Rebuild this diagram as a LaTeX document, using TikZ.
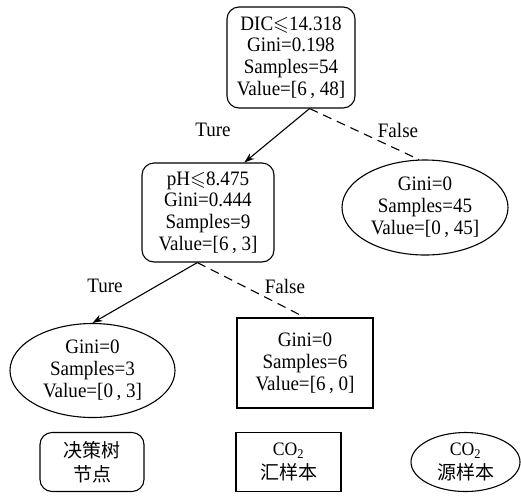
\documentclass[tikz,border=0pt]{standalone}
\usepackage{amsmath,amssymb}
\usepackage{fontspec}
\setmainfont{Liberation Serif}[FakeStretch=0.93]
\newfontfamily\cjk{Noto Sans CJK SC}
\usepackage{tikz}
\usetikzlibrary{shapes,arrows.meta,positioning,calc}

\begin{document}
\begin{tikzpicture}[
    x=1pt, y=-1pt,
    font=\fontsize{20.5}{21.8}\selectfont,
    split/.style={rectangle, draw, rounded corners=12pt, line width=1.1pt, align=center, inner sep=0pt},
    sink/.style={rectangle, draw, line width=1.1pt, align=center, inner sep=0pt},
    source/.style={ellipse, draw, line width=1.1pt, align=center, inner sep=0pt},
    legend/.style={font=\fontsize{19}{24}\selectfont},
    branch/.style={font=\fontsize{20.5}{21.8}\selectfont},
    yes/.style={-{Stealth[length=10pt,width=7pt]}, line width=1.1pt},
    no/.style={line width=1.1pt, dash pattern=on 9pt off 6pt}
]
    \useasboundingbox (0,0) rectangle (521,496);

    % tree
    \node[split, minimum width=128pt, minimum height=101pt] (root) at (291,57.5) {DIC$\leqslant$14.318\\Gini=0.198\\Samples=54\\Value=[6\,, 48]};
    \node[split, minimum width=132pt, minimum height=99pt] (ph) at (208,212.5) {pH$\leqslant$8.475\\Gini=0.444\\Samples=9\\Value=[6\,, 3]};
    \node[source, minimum width=166pt, minimum height=95pt] (src45) at (425,207.5) {Gini=0\\Samples=45\\Value=[0\,, 45]};
    \node[source, minimum width=165pt, minimum height=94pt] (src3) at (92.5,370.5) {Gini=0\\Samples=3\\Value=[0\,, 3]};
    \node[sink, minimum width=136pt, minimum height=90pt] (sink6) at (305,363) {Gini=0\\Samples=6\\Value=[6\,, 0]};

    % branch labels
    \node[branch] (t1) at (213,130) {Ture};
    \node[branch] (f1) at (398,130) {False};
    \node[branch] (t2) at (105,286) {Ture};
    \node[branch] (f2) at (285,286) {False};

    % legend
    \node[split, legend, minimum width=104pt, minimum height=59pt] (keynode) at (92,462) {\cjk 决策树\\\cjk 节点};
    \node[sink, legend, minimum width=105pt, minimum height=59pt] (keysink) at (288.5,462) {CO\textsubscript{2}\\\cjk 汇样本};
    \node[source, legend, minimum width=109pt, minimum height=59pt] (keysrc) at (465.5,462) {CO\textsubscript{2}\\\cjk 源样本};

    \draw[yes] (root.-70) -- (ph.54);
    \draw[no] (root.-70) -- (src45.97);
    \draw[yes] (ph.-102) -- (src3.north);
    \draw[no] (ph.-102) -- (sink6.north);

\end{tikzpicture}
\end{document}
